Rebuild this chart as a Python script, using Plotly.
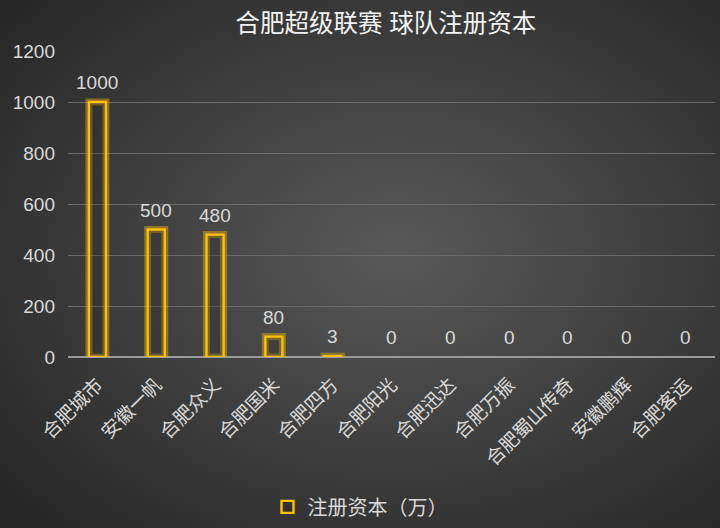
import plotly.graph_objects as go

teams = ['合肥城市', '安徽一帆', '合肥众义', '合肥国米', '合肥四方', '合肥阳光',
         '合肥迅达', '合肥万振', '合肥蜀山传奇', '安徽鹏辉', '合肥客运']
capital = [1000, 500, 480, 80, 3, 0, 0, 0, 0, 0, 0]
y_ticks = [0, 200, 400, 600, 800, 1000, 1200]

W, H = 720, 528
FONT = 'Liberation Sans, Arial, Noto Sans CJK SC, sans-serif'
YELLOW = '#FFC000'
TXT = '#d9d9d9'

# radial grey background as an svg data uri
bg_svg = (
    "data:image/svg+xml;utf8,"
    "<svg xmlns='http://www.w3.org/2000/svg' width='720' height='528'>"
    "<defs><radialGradient id='g' cx='55%25' cy='48%25' r='72%25'>"
    "<stop offset='0' stop-color='%23595959'/>"
    "<stop offset='1' stop-color='%23262626'/>"
    "</radialGradient></defs>"
    "<rect width='720' height='528' fill='url(%23g)'/></svg>"
)

# no outline drawn for empty bars
outline_w = [2.4 if v > 0 else 0 for v in capital]
glow_w = [7 if v > 0 else 0 for v in capital]

fig = go.Figure()

# soft glow behind the outline
fig.add_trace(go.Bar(
    x=teams, y=capital, width=0.29,
    marker=dict(color='rgba(0,0,0,0)', line=dict(color='rgba(255,192,0,0.4)', width=glow_w)),
    showlegend=False, hoverinfo='skip'
))
fig.add_trace(go.Bar(
    x=teams, y=capital, width=0.29, name='注册资本（万）',
    marker=dict(color='rgba(40,40,40,0.25)', line=dict(color=YELLOW, width=outline_w)),
))

for t, v in zip(teams, capital):
    fig.add_annotation(x=t, y=v, text=str(v), showarrow=False,
                       yanchor='bottom', yshift=7,
                       font=dict(color=TXT, size=19, family=FONT))

fig.update_layout(
    width=W, height=H,
    margin=dict(l=0, r=0, t=0, b=0),
    paper_bgcolor='#3a3a3a',
    plot_bgcolor='rgba(0,0,0,0)',
    barmode='overlay',
    font=dict(family=FONT, color=TXT),
    images=[dict(source=bg_svg, xref='paper', yref='paper', x=0, y=1,
                 sizex=1, sizey=1, sizing='stretch', layer='below')],
    title=dict(text='合肥超级联赛 球队注册资本', x=0.536, xanchor='center',
               y=0.955, yanchor='middle',
               font=dict(size=24.5, color='#f2f2f2', family=FONT)),
    xaxis=dict(domain=[68 / W, 715 / W], tickangle=-45,
               tickfont=dict(size=19, color=TXT, family=FONT),
               ticklabelstandoff=12,
               showgrid=False, showline=False, ticks='', automargin=False),
    yaxis=dict(domain=[(H - 357) / H, (H - 51) / H], range=[0, 1200],
               tickvals=y_ticks, tickfont=dict(size=19, color=TXT, family=FONT),
               ticklabelstandoff=12,
               gridcolor='#6a6a6a', gridwidth=1, zeroline=True,
               zerolinecolor='#9a9a9a', zerolinewidth=1.5,
               showline=False, ticks='', automargin=False),
    legend=dict(orientation='h', x=0.5, xanchor='center', y=0.04, yanchor='middle',
                bgcolor='rgba(0,0,0,0)', font=dict(size=20, color=TXT, family=FONT)),
    showlegend=True,
)

fig.write_html('out.html', config={'displayModeBar': False},
               post_script="document.body.style.margin='0';")
